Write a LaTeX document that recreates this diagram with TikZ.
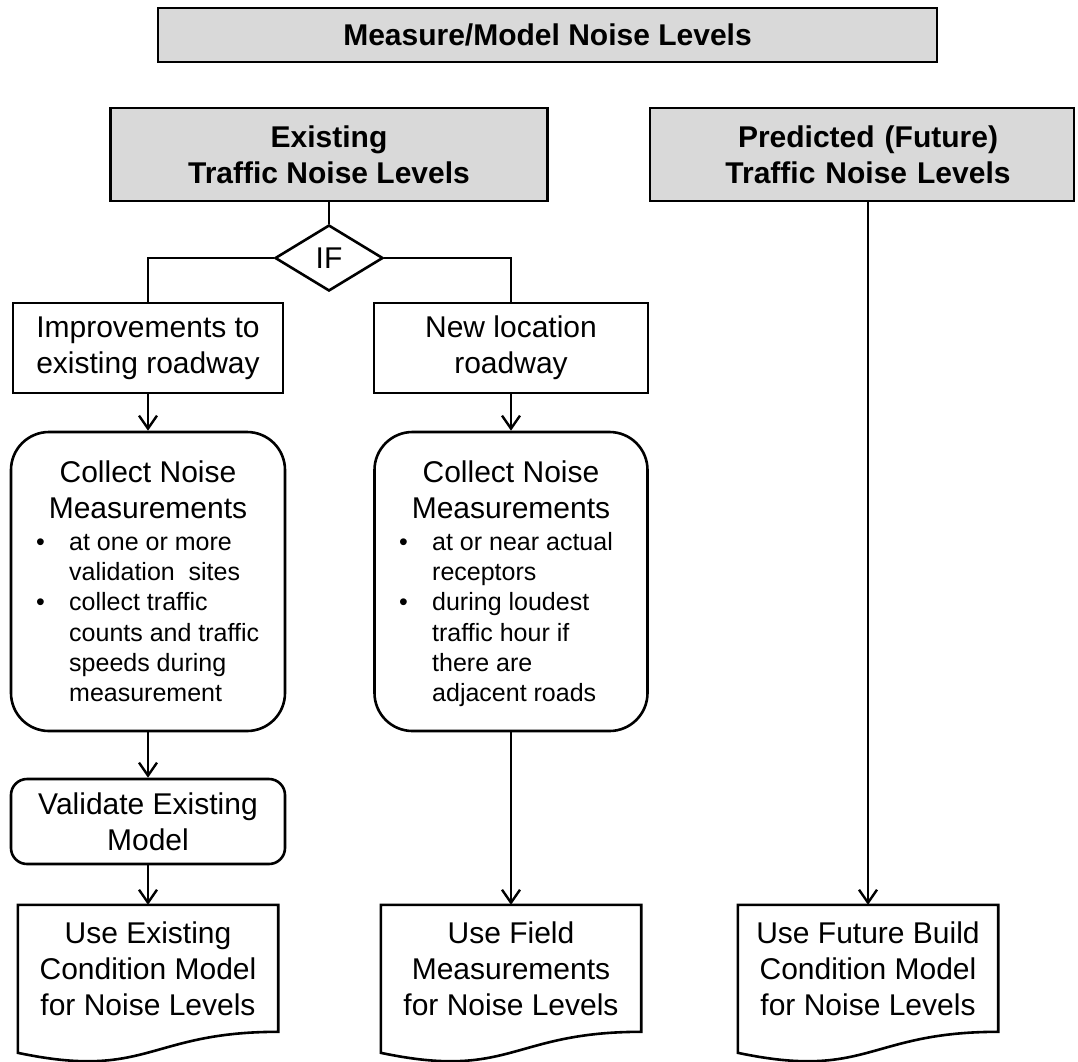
\documentclass[tikz,border=0pt]{standalone}
\usepackage{fontspec}
\setmainfont{Liberation Sans}
\usetikzlibrary{shapes.geometric,arrows.meta,calc}
\definecolor{headgray}{HTML}{D9D9D9}

% document symbol: flat top, wavy bottom, drawn around a text node
\newcommand\docoutline[1]{%
  \draw[outline] (#1.north west) -- (#1.north east)
    -- ([yshift=-127pt]#1.north east)
    .. controls ([yshift=-127pt]#1.north) and ([yshift=-175.5pt]#1.north)
    .. ([yshift=-148pt]#1.north west) -- cycle;}

\begin{document}
\begin{tikzpicture}[x=1pt,y=-1pt,
  every node/.style={inner sep=0pt, align=center, font=\fontsize{30}{36}\selectfont},
  outline/.style={draw=black, line width=2.6pt},
  header/.style={outline, fill=headgray, rectangle, font=\fontsize{30}{36}\selectfont\bfseries},
  plainbox/.style={outline, rectangle},
  roundbox/.style={outline, rectangle, rounded corners=#1},
  roundbox/.default=38pt,
  decision/.style={outline, diamond, aspect=1.64},
  doctext/.style={minimum width=260pt, minimum height=128pt},
  bullets/.style={align=left, font=\fontsize{25}{30.2}\selectfont},
  flow/.style={line width=2.6pt, -{Straight Barb[length=13pt,width=18pt,line width=2.4pt]}},
  link/.style={line width=2.6pt}
]
\useasboundingbox (0,0) rectangle (1078,1061);

% headings
\node[header, minimum width=779pt, minimum height=54pt] (title) at (547.5,35) {Measure/Model Noise Levels};
\node[header, minimum width=437pt, minimum height=93pt] (exist) at (329,154.5) {Existing\\Traffic Noise Levels};
\node[header, minimum width=424pt, minimum height=93pt, text width=424pt] (pred) at (862,154.5)
  {\hspace*{12pt}Predicted (Future)\\\hspace*{12pt}Traffic Noise Levels};

% decision
\node[decision, minimum width=108pt, minimum height=66pt] (if) at (329,258) {IF};

% the two cases
\node[plainbox, minimum width=270pt, minimum height=90pt] (impr) at (148,348) {Improvements to\\existing roadway};
\node[plainbox, minimum width=274pt, minimum height=90pt] (newloc) at (511,348) {New location\\roadway};

% measurement boxes
\node[roundbox, minimum width=274pt, minimum height=299pt] (collL) at (148,581.5) {};
\node (collLhead) at (148,490) {Collect Noise\\Measurements};
\node[bullets, anchor=west] (collLlist) at (36,620) {%
  \strut\makebox[33pt][l]{\textbullet}at one or more\\
  \hspace*{33pt}validation\ \ sites\\
  \makebox[33pt][l]{\textbullet}collect traffic\\
  \hspace*{33pt}counts and traffic\\
  \hspace*{33pt}speeds during\\
  \hspace*{33pt}measurement\strut};

\node[roundbox, minimum width=273pt, minimum height=299pt] (collR) at (511,581.5) {};
\node (collRhead) at (511,490) {Collect Noise\\Measurements};
\node[bullets, anchor=west] (collRlist) at (399,620) {%
  \strut\makebox[33pt][l]{\textbullet}at or near actual\\
  \hspace*{33pt}receptors\\
  \makebox[33pt][l]{\textbullet}during loudest\\
  \hspace*{33pt}traffic hour if\\
  \hspace*{33pt}there are\\
  \hspace*{33pt}adjacent roads\strut};

\node[roundbox=16pt, minimum width=274pt, minimum height=85pt] (valid) at (148,821.5) {Validate Existing\\Model};

% outcomes
\node[doctext] (docL) at (148,969) {Use Existing\\Condition Model\\for Noise Levels};
\node[doctext] (docM) at (511,969) {Use Field\\Measurements\\for Noise Levels};
\node[doctext] (docR) at (868,969) {Use Future Build\\Condition Model\\for Noise Levels};
\docoutline{docL}
\docoutline{docM}
\docoutline{docR}

% connectors
\draw[link] (exist.south) -- (if.north);
\draw[link] (if.west) -| (impr.north);
\draw[link] (if.east) -| (newloc.north);
\draw[flow] (impr.south) -- (collL.north);
\draw[flow] (newloc.south) -- (collR.north);
\draw[flow] (collL.south) -- (valid.north);
\draw[flow] (valid.south) -- (docL.north);
\draw[flow] (collR.south) -- (docM.north);
\draw[flow] (pred.south -| docR.north) -- (docR.north);
\end{tikzpicture}
\end{document}
